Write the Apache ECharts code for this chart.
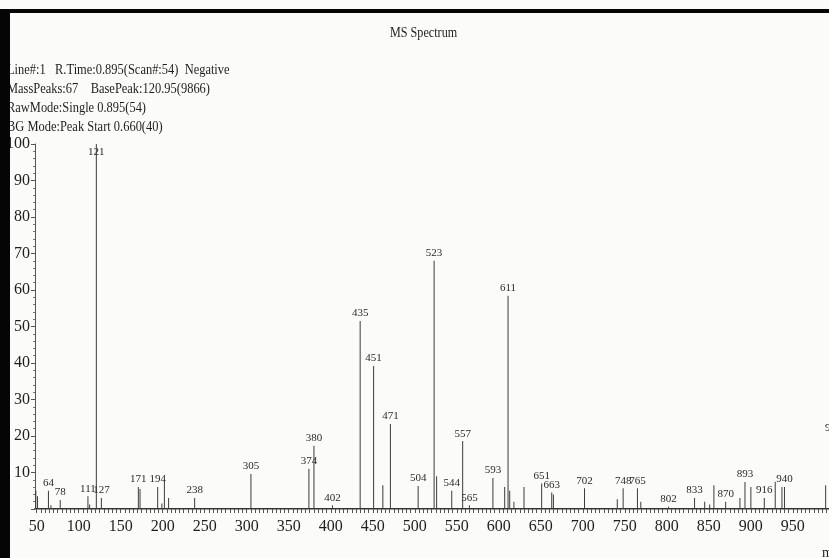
<!DOCTYPE html>
<html>
<head>
<meta charset="utf-8">
<title>MS Spectrum</title>
<script src="https://cdn.jsdelivr.net/npm/echarts@6/dist/echarts.min.js"></script>
<style>
  html, body { margin: 0; padding: 0; background: #fbfbf9; }
  #chart { width: 829px; height: 558px; }
</style>
</head>
<body>
<div id="chart"></div>
<script>
// Peak list: m/z and relative intensity (%)
const mzValues = [49, 51, 64, 67, 78, 111, 113, 121, 127, 171, 173, 194, 199, 202, 207,
  238, 305, 374, 380, 402, 435, 451, 462, 471, 504, 523, 526, 544, 557, 565, 593,
  607, 611, 613, 618, 630, 651, 663, 665, 702, 741, 748, 765, 769, 802, 833, 845,
  851, 856, 870, 887, 893, 900, 916, 929, 937, 940, 989, 998];
const intensities = [5, 3.5, 5, 1, 2.5, 3.5, 1.2, 100, 3, 6, 5.5, 6, 1.5, 8, 3,
  3, 9.6, 11, 17.3, 1, 51.5, 39.2, 6.5, 23.3, 6.3, 68, 9, 5, 18.6, 1, 8.5,
  6, 58.4, 5, 2, 6, 7, 4.5, 4, 5.7, 2.7, 5.7, 5.7, 2, 0.6, 3, 2,
  1.2, 6.5, 2, 3, 7.4, 6, 3, 7.5, 6, 6, 6.5, 20];
// Peaks annotated with their m/z
const labeledPeaks = [64, 78, 111, 121, 127, 171, 194, 238, 305, 374, 380, 402, 435,
  451, 471, 504, 523, 544, 557, 565, 593, 611, 651, 663, 702, 748, 765, 802, 833,
  870, 893, 916, 940, 998];

// Axis ticks
const xTickLabels = [50, 100, 150, 200, 250, 300, 350, 400, 450, 500, 550, 600, 650,
  700, 750, 800, 850, 900, 950];
const xMinorTicks = [];
for (let v = 50; v <= 990; v += 5) xMinorTicks.push(v);

const headerLines = [
  'Line#:1   R.Time:0.895(Scan#:54)  Negative',
  'MassPeaks:67    BasePeak:120.95(9866)',
  'RawMode:Single 0.895(54)',
  'BG Mode:Peak Start 0.660(40)'
];

const serif = '"Liberation Serif", "Times New Roman", serif';

const peakData = mzValues.map((mz, i) => {
  const item = { value: [mz, intensities[i]] };
  if (labeledPeaks.includes(mz)) {
    item.label = { show: true };
    if (intensities[i] >= 95) {
      item.label.position = 'insideTop';
      item.label.distance = 3;
    }
  }
  return item;
});

const chart = echarts.init(document.getElementById('chart'), null, { renderer: 'canvas' });

const graphics = [
  {
    type: 'text', x: 390, y: 33, scaleX: 0.81, z: 10,
    style: { text: 'MS Spectrum', font: '15px ' + serif, fill: '#1e1e1e', verticalAlign: 'middle' }
  },
  {
    type: 'text', x: 822, y: 546, z: 10,
    style: { text: 'm/z', font: '14px ' + serif, fill: '#222', verticalAlign: 'top' }
  },
  // frame bars along the top and left edges
  { type: 'rect', z: 20, shape: { x: 0, y: 9, width: 829, height: 4 }, style: { fill: '#050505' } },
  { type: 'rect', z: 20, shape: { x: 0, y: 9, width: 10, height: 549 }, style: { fill: '#050505' } }
];
headerLines.forEach((t, i) => {
  graphics.push({
    type: 'text', x: 7, y: 70 + i * 19, scaleX: 0.83, z: 10,
    style: { text: t, font: '15px ' + serif, fill: '#1e1e1e', verticalAlign: 'middle' }
  });
});

chart.setOption({
  backgroundColor: '#fbfbf9',
  animation: false,
  grid: { left: 35, right: 0, top: 144, bottom: 49 },
  xAxis: [
    {
      type: 'value', min: 48, max: 993,
      splitLine: { show: false },
      axisLine: { show: true, onZero: false, lineStyle: { color: '#333', width: 2 } },
      axisTick: { show: true, customValues: xMinorTicks, length: 4, lineStyle: { color: '#555' } },
      axisLabel: {
        customValues: xTickLabels, margin: 10,
        fontFamily: serif, fontSize: 16, color: '#1e1e1e'
      }
    },
    {
      type: 'value', min: 48, max: 993, position: 'top',
      splitLine: { show: false },
      axisLine: { show: true, lineStyle: { color: '#9a9a9a', width: 1 } },
      axisTick: { show: false },
      axisLabel: { show: false }
    }
  ],
  yAxis: {
    type: 'value', min: 0, max: 100, interval: 10,
    splitLine: { show: false },
    axisLine: { show: true, lineStyle: { color: '#555' } },
    axisTick: { show: true, length: 4, lineStyle: { color: '#555' } },
    minorTick: { show: true, splitNumber: 5, length: 2, lineStyle: { color: '#777' } },
    axisLabel: {
      margin: 5, fontFamily: serif, fontSize: 16, color: '#1e1e1e',
      formatter: v => (v === 0 ? '' : String(v))
    }
  },
  series: [{
    type: 'bar',
    xAxisIndex: 0,
    barWidth: 1,
    clip: false,
    itemStyle: { color: '#3c3c3c' },
    label: {
      show: false, position: 'top', distance: 2,
      fontFamily: serif, fontSize: 11, color: '#2a2a2a',
      formatter: p => String(p.value[0])
    },
    data: peakData
  }],
  graphic: graphics
});
</script>
</body>
</html>
